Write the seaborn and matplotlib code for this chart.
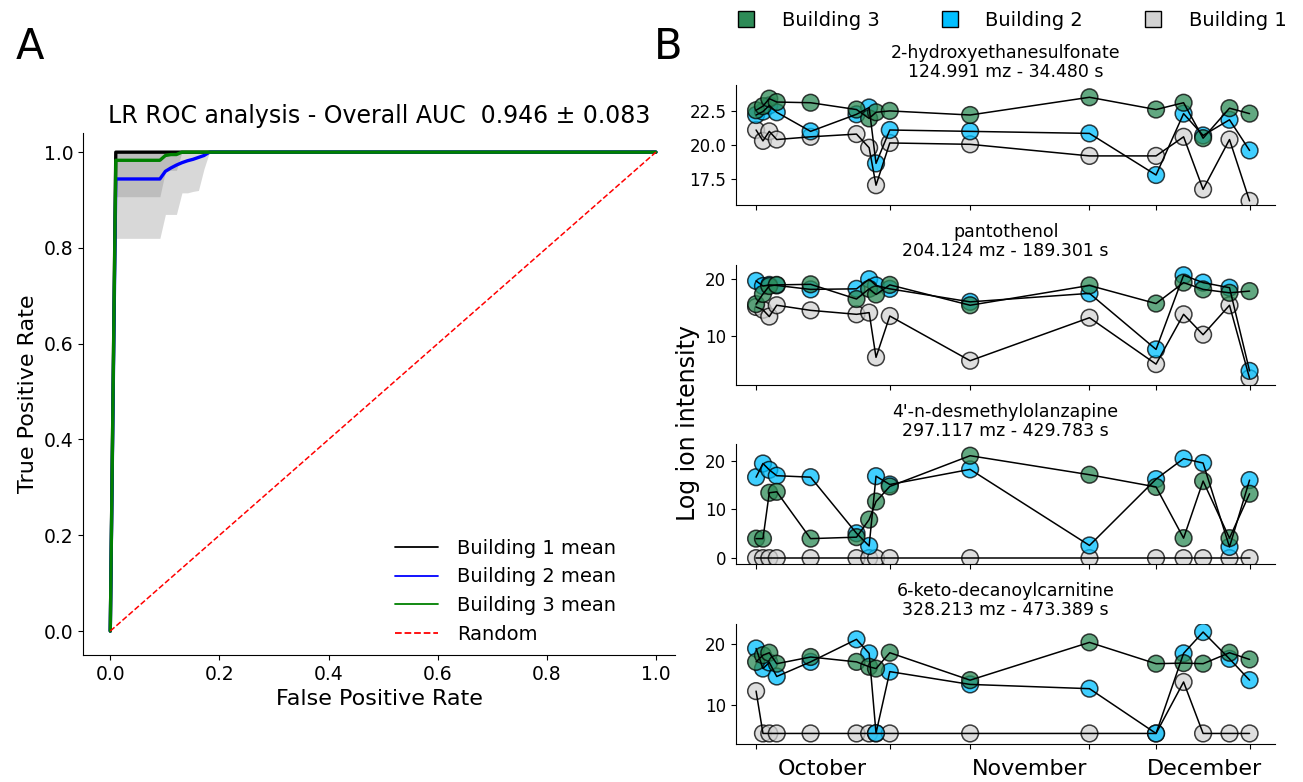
import numpy as np
import pandas as pd
import matplotlib
matplotlib.use("Agg")
import matplotlib.pyplot as plt
import seaborn as sns
from matplotlib.lines import Line2D

sns.set_style("ticks")
plt.rcParams["font.family"] = ["DejaVu Sans"]
plt.rcParams.update({
    "text.color": "black",
    "axes.labelcolor": "black",
    "axes.edgecolor": "black",
    "xtick.color": "black",
    "ytick.color": "black",
})

# ---------------- ROC data (mean TPR / std on a 100-point FPR grid) ----------------
fpr_grid = np.linspace(0, 1, 100)
b1_tpr_head = [0.0]
b1_std_head = [0.0]
b2_tpr_head = [0.0] + [0.944] * 9 + [0.960, 0.967, 0.973, 0.978, 0.982, 0.985, 0.989, 0.993]
b2_std_head = [0.0] + [0.124] * 9 + [0.090, 0.097, 0.103, 0.063, 0.067, 0.067, 0.069, 0.028]
b3_tpr_head = [0.0] + [0.983] * 9 + [0.993, 0.995, 0.995]
b3_std_head = [0.0] + [0.076] * 9 + [0.033, 0.033, 0.033]

roc_labels = ["Building 1 mean", "Building 2 mean", "Building 3 mean"]
roc_colors = ["black", "blue", "green"]
roc_title = "LR ROC analysis - Overall AUC  0.946 \u00b1 0.083"


def full_curve(head, tail_value):
    return np.array(head + [tail_value] * (len(fpr_grid) - len(head)))


roc_means = [full_curve(b1_tpr_head, 1.0), full_curve(b2_tpr_head, 1.0), full_curve(b3_tpr_head, 1.0)]
roc_stds = [full_curve(b1_std_head, 0.0), full_curve(b2_std_head, 0.0), full_curve(b3_std_head, 0.0)]

# ---------------- time courses ----------------
sample_day = [0, 1.2, 2.3, 3.6, 9.5, 17.5, 19.7, 20.9, 23.3, 37.3, 58.1, 69.7, 74.5, 77.9, 82.5, 86.0]
tick_days = [0, 23.3, 37.3, 58.1, 69.7, 86.0]
month_days = [11.5, 47.7, 78.1]
month_names = ["October", "November", "December"]

compound_titles = [
    "2-hydroxyethanesulfonate\n124.991 mz - 34.480 s",
    "pantothenol\n204.124 mz - 189.301 s",
    "4'-n-desmethylolanzapine\n297.117 mz - 429.783 s",
    "6-keto-decanoylcarnitine\n328.213 mz - 473.389 s",
]

hes_b1 = [21.1, 20.3, 21.0, 20.4, 20.6, 20.8, 19.8, 17.05, 20.15, 20.05, 19.2, 19.2, 20.6, 16.75, 20.4, 15.9]
hes_b2 = [22.2, 22.45, 22.9, 22.4, 21.0, 22.25, 22.75, 18.65, 21.1, 21.0, 20.85, 17.8, 22.3, 20.7, 21.85, 19.6]
hes_b3 = [22.55, 22.85, 23.4, 23.15, 23.1, 22.6, 21.95, 22.4, 22.5, 22.2, 23.5, 22.6, 23.1, 20.5, 22.7, 22.3]

pan_b1 = [15.1, 14.6, 13.4, 15.4, 14.5, 13.8, 14.1, 6.2, 13.5, 5.6, 13.2, 5.0, 13.8, 10.2, 15.4, 2.5]
pan_b2 = [19.7, 18.8, 19.0, 18.9, 18.2, 18.3, 20.0, 18.9, 18.3, 16.0, 17.5, 7.6, 20.7, 19.4, 18.5, 3.8]
pan_b3 = [15.6, 17.4, 18.8, 19.0, 19.1, 16.5, 18.3, 17.3, 19.0, 15.4, 18.9, 15.7, 19.4, 18.2, 17.6, 17.9]

des_b1 = [0.0] * 16
des_b2 = [16.6, 19.4, 18.1, 16.9, 16.6, 5.1, 2.5, 16.8, 15.1, 18.2, 2.6, 16.2, 20.4, 19.5, 2.3, 16.0]
des_b3 = [4.0, 4.0, 13.4, 13.6, 4.0, 4.3, 7.9, 11.6, 14.7, 21.0, 17.1, 14.6, 4.1, 15.8, 4.1, 13.2]

kdc_b1 = [12.2, 5.25, 5.25, 5.25, 5.25, 5.25, 5.25, 5.25, 5.25, 5.25, 5.25, 5.25, 13.7, 5.25, 5.25, 5.25]
kdc_b2 = [19.2, 15.9, 16.9, 14.6, 17.0, 20.7, 18.4, 5.3, 15.4, 13.3, 12.6, 5.25, 18.4, 21.9, 17.5, 14.0]
kdc_b3 = [17.0, 18.1, 18.5, 16.7, 17.8, 17.0, 16.2, 15.9, 18.5, 14.0, 20.2, 16.7, 16.8, 16.7, 18.5, 17.4]

compound_series = [
    (hes_b1, hes_b2, hes_b3),
    (pan_b1, pan_b2, pan_b3),
    (des_b1, des_b2, des_b3),
    (kdc_b1, kdc_b2, kdc_b3),
]
y_ticks = [[17.5, 20.0, 22.5], [10, 20], [0, 10, 20], [10, 20]]
y_limits = [(15.6, 24.4), (1.4, 22.6), (-1.2, 23.4), (3.6, 23.3)]

buildings = ["Building 1", "Building 2", "Building 3"]
building_colors = {"Building 1": "#D3D3D3", "Building 2": "#00BFFF", "Building 3": "#2E8B57"}

# ---------------- figure ----------------
fig = plt.figure(figsize=(13.03, 7.82), dpi=100)

# Panel A: ROC curves
axA = fig.add_axes([83 / 1303, 1 - 655 / 782, (675 - 83) / 1303, (655 - 133) / 782])
for mean, std in zip(roc_means, roc_stds):
    upper = np.minimum(mean + std, 1)
    lower = mean - std
    axA.fill_between(fpr_grid, lower, upper, color="grey", alpha=0.3, lw=0)
for mean, color in zip(roc_means, roc_colors):
    sns.lineplot(x=fpr_grid, y=mean, color=color, lw=2.4, ax=axA, legend=False)
axA.plot([0, 1], [0, 1], ls="--", color="red", lw=1.1)
axA.set_xlim(-0.05, 1.035)
axA.set_ylim(-0.05, 1.04)
axA.set_xticks(np.arange(0, 1.01, 0.2))
axA.set_yticks(np.arange(0, 1.01, 0.2))
axA.tick_params(labelsize=13.5)
axA.set_xlabel("False Positive Rate", fontsize=16)
axA.set_ylabel("True Positive Rate", fontsize=16)
axA.set_title(roc_title, fontsize=17, pad=7)
sns.despine(ax=axA)
roc_handles = [Line2D([], [], color=c, lw=1.3) for c in roc_colors]
roc_handles.append(Line2D([], [], color="red", lw=1.3, ls="--"))
axA.legend(roc_handles, roc_labels + ["Random"], loc="lower right",
           bbox_to_anchor=(0.93, -0.012), frameon=False, fontsize=14,
           handlelength=2.2, handletextpad=1.0, labelspacing=0.5)

# Panel B: time courses
left_b = 736 / 1303
width_b = (1275.4 - 736) / 1303
ax_h = 120 / 782
period = 179.5 / 782
top0 = 1 - 85 / 782
axes_b = []
for i, (title, series) in enumerate(zip(compound_titles, compound_series)):
    ax = fig.add_axes([left_b, top0 - ax_h - i * period, width_b, ax_h])
    axes_b.append(ax)
    df = pd.DataFrame({
        "day": sample_day * 3,
        "intensity": list(series[0]) + list(series[1]) + list(series[2]),
        "building": sum([[b] * len(sample_day) for b in buildings], []),
    })
    sns.scatterplot(data=df, x="day", y="intensity", hue="building", hue_order=buildings,
                    palette=building_colors, s=145, alpha=0.75, edgecolor="black",
                    linewidth=1.1, ax=ax, legend=False, zorder=2)
    sns.lineplot(data=df, x="day", y="intensity", units="building", estimator=None,
                 color="black", lw=1.1, ax=ax, legend=False, zorder=3, sort=True)
    ax.set_xlim(-3.5, 90.5)
    ax.set_ylim(*y_limits[i])
    ax.set_yticks(y_ticks[i])
    if i == 0:
        ax.set_yticklabels([f"{t:.1f}" for t in y_ticks[i]])
    ax.set_xticks(tick_days)
    ax.set_xticklabels([""] * len(tick_days))
    ax.set_xlabel("")
    ax.set_ylabel("")
    ax.tick_params(axis="y", labelsize=12)
    ax.set_title(title, fontsize=12.5, pad=6, linespacing=1.05)
    sns.despine(ax=ax)

axes_b[-1].set_xticks(month_days, minor=True)
axes_b[-1].set_xticklabels(month_names, minor=True)
axes_b[-1].tick_params(axis="x", which="minor", length=0, labelsize=16, pad=11)

fig.text(688 / 1303, 1 - 423 / 782, "Log ion intensity", rotation=90,
         ha="center", va="center", fontsize=17)

# Building legend on top
legend_handles = [Line2D([], [], marker="s", ls="", markersize=12,
                         markerfacecolor=building_colors[b], markeredgecolor="black",
                         markeredgewidth=1.0) for b in buildings[::-1]]
fig.legend(legend_handles, buildings[::-1], loc="center", ncol=3, frameon=False,
           bbox_to_anchor=(1011.5 / 1303, 1 - 20.7 / 782), fontsize=14,
           handlelength=1.0, handletextpad=1.35, columnspacing=3.1)

# Panel letters
fig.text(30 / 1303, 1 - 47 / 782, "A", fontsize=30, ha="center", va="center")
fig.text(668 / 1303, 1 - 47 / 782, "B", fontsize=30, ha="center", va="center")

fig.savefig("out.png", dpi=100)
